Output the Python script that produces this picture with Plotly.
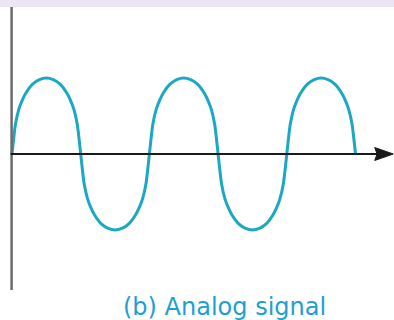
import plotly.graph_objects as go

# one positive hump of the wave:
# position within a half cycle (0..1) and relative height
hump_u = [0, 0.025, 0.05, 0.1, 0.15, 0.2, 0.3, 0.4, 0.5,
          0.6, 0.7, 0.8, 0.85, 0.9, 0.95, 0.975]
hump_h = [0, 0.21, 0.39, 0.59, 0.71, 0.80, 0.92, 0.98, 1.0,
          0.98, 0.92, 0.80, 0.71, 0.59, 0.39, 0.21]
n_half_cycles = 5
caption = "(b) Analog signal"

WAVE = "#1ba8c2"
TEXT = "#1e9fd2"

# the signal is periodic: alternate the hump up and down
t_points, amplitude = [], []
for k in range(n_half_cycles):
    sign = 1 if k % 2 == 0 else -1
    for u, h in zip(hump_u, hump_h):
        t_points.append((k + u) / 2)
        amplitude.append(sign * h)
t_points.append(n_half_cycles / 2)
amplitude.append(0)

fig = go.Figure()
fig.add_trace(go.Scatter(
    x=t_points,
    y=amplitude,
    mode="lines",
    line=dict(color=WAVE, width=3, shape="spline", smoothing=0.6),
    hoverinfo="skip",
))

# vertical axis
fig.add_shape(type="line", x0=-0.003, x1=-0.003, y0=1.935, y1=-1.79,
              line=dict(color="#6b6b6b", width=2.5))
# horizontal axis
fig.add_shape(type="line", x0=-0.01, x1=2.68, y0=0, y1=0,
              line=dict(color="#1a1a1a", width=2))
# arrow head (stealth style)
fig.add_shape(type="path", path="M 2.775 0 L 2.64 0.085 L 2.657 0 L 2.64 -0.085 Z",
              fillcolor="#1a1a1a", line=dict(color="#1a1a1a", width=1))

fig.add_annotation(text=caption, x=224.5 / 394, y=0, xref="paper", yref="paper",
                   yanchor="bottom", yshift=-3, showarrow=False,
                   font=dict(family="DejaVu Sans", size=24, color=TEXT))

# lavender band at the top
fig.add_shape(type="rect", xref="paper", yref="paper", x0=0, x1=1,
              y0=1 - 7 / 320, y1=1, fillcolor="#ece5f4", line_width=0, layer="below")

fig.update_layout(
    width=394, height=320,
    margin=dict(l=0, r=0, t=0, b=0),
    paper_bgcolor="white", plot_bgcolor="white",
    showlegend=False,
    xaxis=dict(range=[-12 / 137.4, 382 / 137.4], visible=False, fixedrange=True),
    yaxis=dict(range=[-166 / 76, 154 / 76], visible=False, fixedrange=True),
)

fig.write_html("out.html", config={"displayModeBar": False},
               post_script="document.body.style.margin='0';")
